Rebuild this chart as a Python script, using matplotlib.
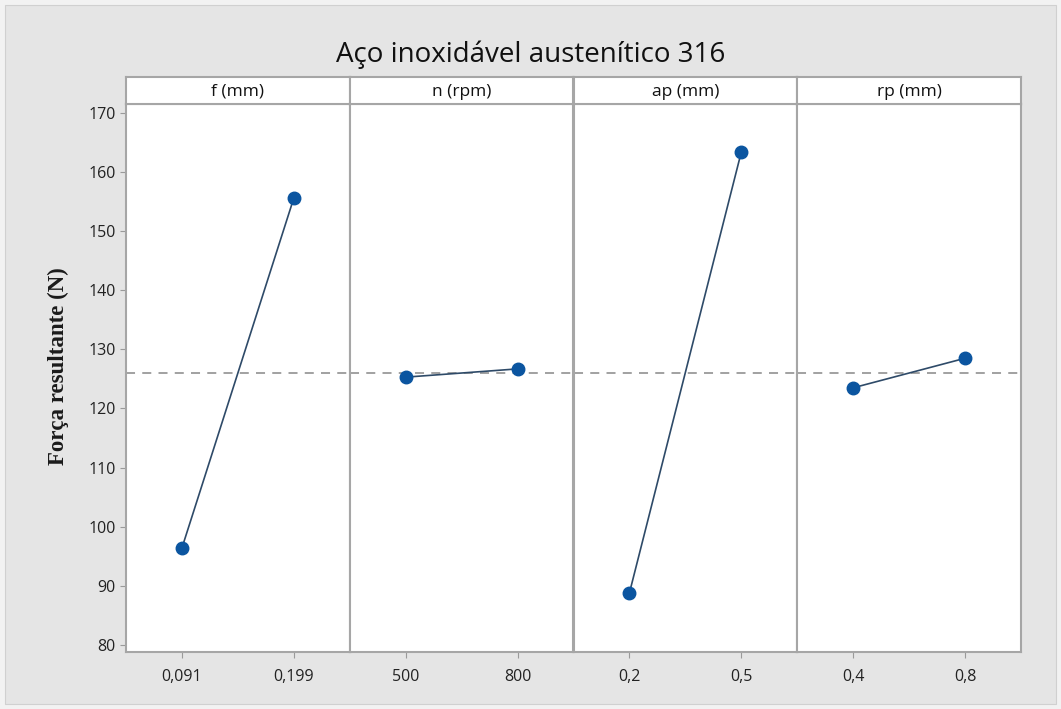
import matplotlib.pyplot as plt
from matplotlib.patches import Rectangle

# factors and their levels
factors = ['f (mm)', 'n (rpm)', 'ap (mm)', 'rp (mm)']
levels = [['0,091', '0,199'], ['500', '800'], ['0,2', '0,5'], ['0,4', '0,8']]
# mean resultant force (N) for each level
means = [[96.4, 155.6], [125.3, 126.7], [88.8, 163.4], [123.5, 128.5]]
grand_mean = 126.0
yticks = [80, 90, 100, 110, 120, 130, 140, 150, 160, 170]

bg = '#e5e5e5'
frame = '#a6a6a6'
fig = plt.figure(figsize=(10.61, 7.09), dpi=100, facecolor='#f2f2f2')
fig.patches.append(Rectangle((5/1061, 5/709), 1 - 10/1061, 1 - 10/709,
                             transform=fig.transFigure, facecolor=bg,
                             edgecolor='#d0d0d0', lw=0.8, zorder=-5))

left, right = 126/1061, 1021/1061
bottom, top = 1 - 652/709, 1 - 103.5/709
head_h = 26.5/709
w = (right - left) / 4

fig.text(0.5, 1 - 55/709, 'Aço inoxidável austenítico 316', ha='center', va='center',
         fontsize=20, family='Open Sans', color='#111111')
fig.text(58/1061, 1 - 366/709, 'Força resultante (N)', rotation=90, ha='center',
         va='center', fontsize=16.5, family='Liberation Serif', weight='bold', color='#1a1a1a')

for i in range(4):
    ax = fig.add_axes([left + i*w, bottom, w, top - bottom])
    ax.axhline(grand_mean, color='#9a9a9a', lw=1.3, ls=(0, (5, 4)), zorder=1)
    ax.plot([1, 2], means[i], color='#2e4a68', lw=1.2, zorder=2)
    ax.plot([1, 2], means[i], 'o', color='#0b55a0', ms=9, zorder=3)
    ax.set_xlim(0.5, 2.5)
    ax.set_ylim(78.8, 171.6)
    ax.set_xticks([1, 2])
    ax.set_xticklabels(levels[i])
    ax.set_yticks(yticks)
    for s in ax.spines.values():
        s.set_color(frame)
        s.set_linewidth(1.5)
    ax.tick_params(colors='#9a9a9a', labelcolor='#222222', labelsize=11.5, length=4, width=0.8)
    for lab in ax.get_xticklabels() + ax.get_yticklabels():
        lab.set_family('Open Sans')
    ax.tick_params(axis='x', pad=8)
    if i > 0:
        ax.tick_params(axis='y', left=False, labelleft=False)

    hax = fig.add_axes([left + i*w, top, w, head_h])
    hax.set_xticks([])
    hax.set_yticks([])
    for s in hax.spines.values():
        s.set_color(frame)
        s.set_linewidth(1.5)
    hax.text(0.5, 0.45, factors[i], ha='center', va='center', fontsize=12.5,
             family='Open Sans', color='#111111', transform=hax.transAxes)

fig.savefig('out.png', dpi=100, facecolor=fig.get_facecolor())
